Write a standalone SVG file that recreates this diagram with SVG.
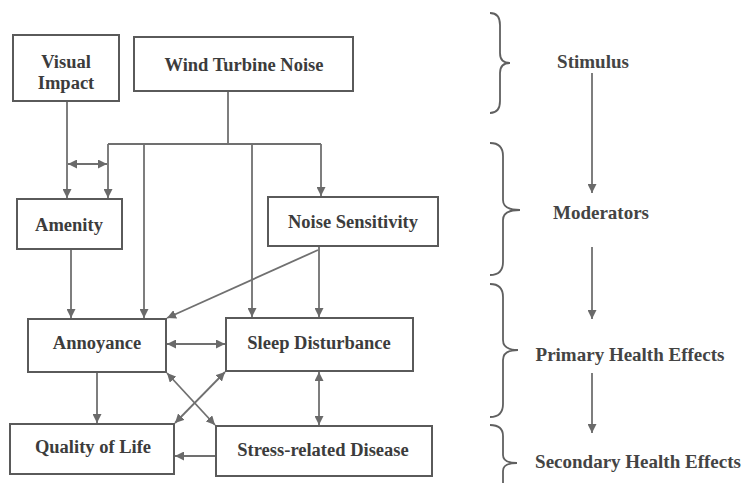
<svg xmlns="http://www.w3.org/2000/svg" width="742" height="483" viewBox="0 0 742 483">
<style>
.box{fill:#fff;stroke:#5a5a5a;stroke-width:2}
.t{font-family:"Liberation Serif","Times New Roman",serif;font-weight:bold;font-size:18.5px;fill:#3c3c3c;text-anchor:middle}
.r{font-family:"Liberation Serif","Times New Roman",serif;font-weight:bold;font-size:19px;fill:#444;text-anchor:middle}
.c{fill:none;stroke:#707070;stroke-width:1.8}
.a{marker-end:url(#ah)}
.d{marker-end:url(#ah);marker-start:url(#ah)}
.br{fill:none;stroke:#606060;stroke-width:1.8}
</style>
<defs>
<marker id="ah" viewBox="0 0 10 10" refX="10" refY="5" markerWidth="9" markerHeight="9" markerUnits="userSpaceOnUse" orient="auto-start-reverse">
<path d="M0,0 L10,5 L0,10 Z" fill="#6a6a6a"/>
</marker>
</defs>
<rect width="742" height="483" fill="#fff"/>
<g id="connectors">
<line class="c a" x1="67" y1="101" x2="67" y2="198"/>
<polyline class="c" points="228,91 228,144"/>
<line class="c" x1="108" y1="144" x2="321" y2="144"/>
<line class="c a" x1="108" y1="144" x2="108" y2="198"/>
<line class="c d" x1="68" y1="164" x2="107" y2="164"/>
<line class="c a" x1="144" y1="144" x2="144" y2="318"/>
<line class="c a" x1="252" y1="144" x2="252" y2="317"/>
<line class="c a" x1="321" y1="144" x2="321" y2="196"/>
<line class="c a" x1="71" y1="249" x2="71" y2="318"/>
<line class="c a" x1="319" y1="246" x2="319" y2="317"/>
<line class="c a" x1="318" y1="250" x2="167" y2="318"/>
<line class="c d" x1="167" y1="344" x2="225" y2="344"/>
<line class="c a" x1="97" y1="372" x2="97" y2="423"/>
<line class="c d" x1="319" y1="372" x2="319" y2="425"/>
<line class="c d" x1="167" y1="373" x2="215" y2="425"/>
<line class="c d" x1="225" y1="372" x2="175" y2="423"/>
<line class="c a" x1="216" y1="456" x2="175" y2="456"/>
<line class="c a" x1="592" y1="73" x2="592" y2="193"/>
<line class="c a" x1="592" y1="247" x2="592" y2="319"/>
<line class="c a" x1="592" y1="373" x2="592" y2="433"/>
</g>
<g id="braces">
<path class="br" d="M490,13 Q500,13 500,25 L500,53 Q500,63 510,63 Q500,63 500,73 L500,101 Q500,113 490,113"/>
<path class="br" d="M490,143 Q503,143 503,156 L503,200 Q503,210 520,210 Q503,210 503,220 L503,262 Q503,275 490,275"/>
<path class="br" d="M490,284 Q503,284 503,297 L503,340 Q503,350 518,350 Q503,350 503,360 L503,404 Q503,417 490,417"/>
<path class="br" d="M490,425 Q503,425 503,436 L503,455 Q503,463 517,463 Q503,463 503,471 L503,490"/>
</g>
<g id="visual-impact"><rect class="box" x="13" y="35" width="106" height="66"/><text class="t" x="66" y="68">Visual</text><text class="t" x="66" y="89">Impact</text></g>
<g id="wind-turbine-noise"><rect class="box" x="134" y="37" width="219" height="54"/><text class="t" x="244" y="71">Wind Turbine Noise</text></g>
<g id="amenity"><rect class="box" x="17" y="199" width="105" height="50"/><text class="t" x="69" y="231">Amenity</text></g>
<g id="noise-sensitivity"><rect class="box" x="268" y="197" width="170" height="49"/><text class="t" x="353" y="228">Noise Sensitivity</text></g>
<g id="annoyance"><rect class="box" x="28" y="319" width="138" height="53"/><text class="t" x="97" y="349">Annoyance</text></g>
<g id="sleep-disturbance"><rect class="box" x="226" y="318" width="187" height="53"/><text class="t" x="319" y="349">Sleep Disturbance</text></g>
<g id="quality-of-life"><rect class="box" x="10" y="424" width="164" height="50"/><text class="t" x="93" y="453">Quality of Life</text></g>
<g id="stress-related-disease"><rect class="box" x="216" y="426" width="216" height="50"/><text class="t" x="323" y="456">Stress-related Disease</text></g>
<g id="stimulus"><text class="r" x="593" y="68">Stimulus</text></g>
<g id="moderators"><text class="r" x="601" y="219">Moderators</text></g>
<g id="primary"><text class="r" x="630" y="361">Primary Health Effects</text></g>
<g id="secondary"><text class="r" x="638" y="468">Secondary Health Effects</text></g>
</svg>
